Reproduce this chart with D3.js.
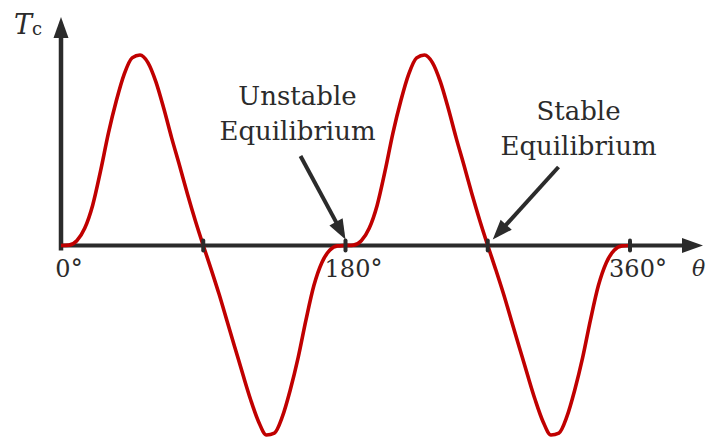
<!DOCTYPE html>
<html>
<head>
<meta charset="utf-8">
<script src="https://cdn.jsdelivr.net/npm/d3@7"></script>
<style>
  html, body { margin: 0; padding: 0; background: #fff; }
  svg { display: block; }
  text { font-family: "DejaVu Serif", "Liberation Serif", serif; fill: #2b2b2b; }
</style>
</head>
<body>
<svg id="chart" width="707" height="438"></svg>
<script>
// Rotor angle (degrees) and normalised cogging torque Tc
const angles = [
  0, 5, 10, 15, 20, 25, 30, 35, 40, 45, 50, 55, 60, 65, 70, 75, 80, 85, 90,
  95, 100, 105, 110, 115, 120, 125, 130, 135, 140, 145, 150, 155, 160, 165, 170, 175, 180,
  185, 190, 195, 200, 205, 210, 215, 220, 225, 230, 235, 240, 245, 250, 255, 260, 265, 270,
  275, 280, 285, 290, 295, 300, 305, 310, 315, 320, 325, 330, 335, 340, 345, 350, 355, 360
];
const torque = [
  0, 0.002, 0.025, 0.09, 0.21, 0.39, 0.59, 0.76, 0.90, 0.985, 1.0, 0.96, 0.86, 0.72, 0.565, 0.42, 0.27, 0.13, 0,
  -0.125, -0.255, -0.395, -0.535, -0.675, -0.81, -0.925, -0.995, -0.985, -0.90, -0.76, -0.59, -0.39, -0.21, -0.09, -0.025, -0.002, 0,
  0.002, 0.025, 0.09, 0.21, 0.39, 0.59, 0.76, 0.90, 0.985, 1.0, 0.96, 0.86, 0.72, 0.565, 0.42, 0.27, 0.13, 0,
  -0.125, -0.255, -0.395, -0.535, -0.675, -0.81, -0.925, -0.995, -0.985, -0.90, -0.76, -0.59, -0.39, -0.21, -0.09, -0.025, -0.002, 0
];
const tickAngles = [90, 180, 270, 360];
const tickLabels = [
  { angle: 0, text: "0", unit: "°" },
  { angle: 180, text: "180", unit: "°" },
  { angle: 360, text: "360", unit: "°" }
];
const annotations = [
  { lines: ["Unstable", "Equilibrium"], angle: 180 },
  { lines: ["Stable", "Equilibrium"], angle: 270 }
];

const AXIS = "#2b2b2b";
const CURVE = "#c00000";

const svg = d3.select("#chart");
const x = d3.scaleLinear().domain([0, 360]).range([61, 630]);
const y = d3.scaleLinear().domain([-1, 1]).range([436, 55]);
const y0 = y(0);

// Draws a straight arrow ending in a filled triangular head at (x2, y2)
function arrow(g, x1, y1, x2, y2, headLen, headW, width) {
  const dx = x2 - x1, dy = y2 - y1;
  const len = Math.hypot(dx, dy);
  const ux = dx / len, uy = dy / len;
  const ex = x2 - ux * (headLen - 2), ey = y2 - uy * (headLen - 2);
  g.append("line")
    .attr("x1", x1).attr("y1", y1).attr("x2", ex).attr("y2", ey)
    .attr("stroke", AXIS).attr("stroke-width", width);
  const bx = x2 - ux * headLen, by = y2 - uy * headLen;
  const px = -uy * headW / 2, py = ux * headW / 2;
  g.append("path")
    .attr("d", `M${x2},${y2}L${bx + px},${by + py}L${bx - px},${by - py}Z`)
    .attr("fill", AXIS);
}

// Axes
const axes = svg.append("g");
arrow(axes, x(0), y0 + 5, x(0), 17, 21, 15, 4.5);
arrow(axes, x(0), y0, 703, y0, 21, 15, 4);

// Torque curve
const line = d3.line()
  .x((d, i) => x(angles[i]))
  .y(d => y(d))
  .curve(d3.curveMonotoneX);
svg.append("path")
  .datum(torque)
  .attr("d", line)
  .attr("fill", "none")
  .attr("stroke", CURVE)
  .attr("stroke-width", 3.6)
  .attr("stroke-linejoin", "round");

// Tick marks on the angle axis
svg.append("g").selectAll("line")
  .data(tickAngles)
  .join("line")
  .attr("x1", d => x(d)).attr("x2", d => x(d))
  .attr("y1", y0 - 5).attr("y2", y0 + 5)
  .attr("stroke", AXIS).attr("stroke-width", 4)
  .attr("stroke-linecap", "round");

// Tick labels: digits centred on the tick, degree sign trailing
const lbl = svg.append("g").selectAll("text")
  .data(tickLabels)
  .join("text")
  .attr("y", 277)
  .attr("font-size", 24);
lbl.append("tspan").attr("class", "num").text(d => d.text);
lbl.append("tspan").text(d => d.unit);
lbl.each(function (d) {
  const w = this.querySelector(".num").getComputedTextLength();
  d3.select(this).attr("x", x(d.angle) - w / 2 + 2);
});

// Axis titles
svg.append("text")
  .attr("x", 692).attr("y", 276)
  .attr("font-size", 22).attr("font-style", "italic")
  .text("θ");
const tc = svg.append("text").attr("x", 14).attr("y", 34);
tc.append("tspan").attr("font-size", 27).attr("font-style", "italic").text("T");
tc.append("tspan").attr("font-size", 18).attr("dy", 1).text("c");

// Equilibrium annotations
const notes = [
  { cx: 297.5, base: 105, from: [300.5, 156], to: [x(annotations[0].angle), y0 - 6] },
  { cx: 578.5, base: 120, from: [558.5, 167], to: [x(annotations[1].angle) + 5, y0 - 6] }
];
annotations.forEach((a, i) => {
  const n = notes[i];
  const t = svg.append("text")
    .attr("text-anchor", "middle")
    .attr("font-size", 26);
  a.lines.forEach((s, k) => {
    t.append("tspan").attr("x", n.cx).attr("y", n.base + k * 35).text(s);
  });
  arrow(svg.append("g"), n.from[0], n.from[1], n.to[0], n.to[1], 20, 15, 4);
});
</script>
</body>
</html>
